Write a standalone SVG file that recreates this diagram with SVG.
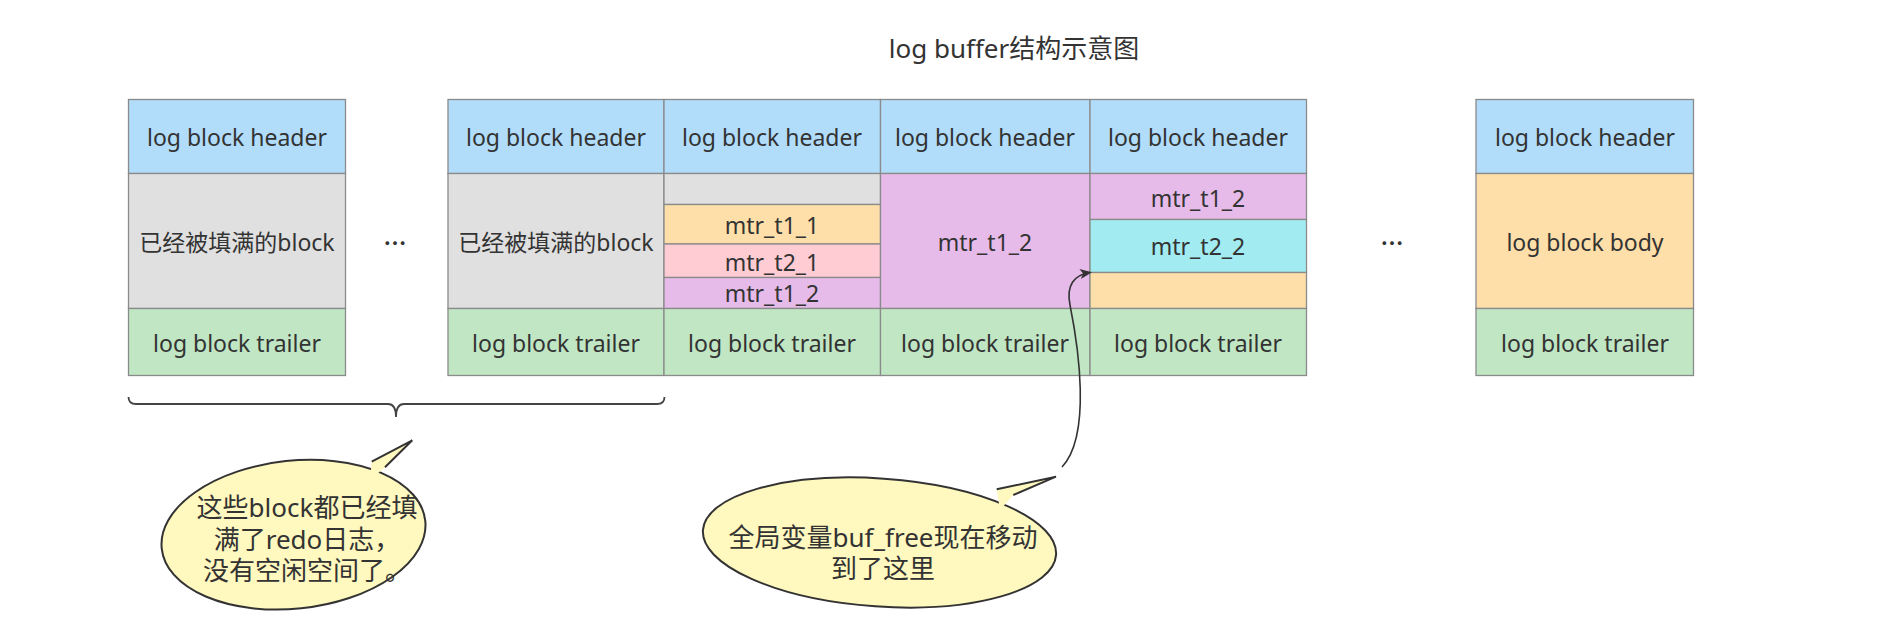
<svg xmlns="http://www.w3.org/2000/svg" width="1902" height="628" viewBox="0 0 1902 628">
<defs>
<style>
.t{font-family:"Noto Sans","Noto Sans CJK SC",sans-serif;font-size:23px;fill:#333;text-anchor:middle;dominant-baseline:central}
.b{font-family:"Noto Sans","Noto Sans CJK SC",sans-serif;font-size:26px;fill:#333;text-anchor:middle;dominant-baseline:central}
.c{stroke:#8a8a8a;stroke-width:1.3}
.hd{fill:#b1ddfb}
.gy{fill:#e0e0e0}
.gr{fill:#c0e6c4}
.or{fill:#fedfa9}
.pk{fill:#ffccd4}
.pu{fill:#e6bbe9}
.cy{fill:#a1ebf1}
.bub{fill:#fff8bf;stroke:#333;stroke-width:2}
</style>
<marker id="ah" markerWidth="12" markerHeight="10" refX="10" refY="5" orient="auto" markerUnits="userSpaceOnUse">
<path d="M0,0 L12,5 L0,10 L3,5 Z" fill="#333"/>
</marker>
</defs>
<rect width="1902" height="628" fill="#fff"/>
<text id="title" x="1014" y="48" class="t" style="font-size:26px">log buffer结构示意图</text>

<g id="block1">
<rect class="c hd" x="128.5" y="99.5" width="217" height="74"/>
<rect class="c gy" x="128.5" y="173.5" width="217" height="135"/>
<rect class="c gr" x="128.5" y="308.5" width="217" height="67"/>
<text class="t" x="237" y="137">log block header</text>
<text class="t" x="237" y="242">已经被填满的block</text>
<text class="t" x="237" y="342.5">log block trailer</text>
</g>

<g id="dots1"><text class="t" x="395" y="242" style="font-family:'Noto Sans CJK SC',sans-serif;font-weight:bold">…</text></g>

<g id="block2">
<rect class="c hd" x="448" y="99.5" width="216" height="74"/>
<rect class="c gy" x="448" y="173.5" width="216" height="135"/>
<rect class="c gr" x="448" y="308.5" width="216" height="67"/>
<text class="t" x="556" y="137">log block header</text>
<text class="t" x="556" y="242">已经被填满的block</text>
<text class="t" x="556" y="342.5">log block trailer</text>
</g>

<g id="block3">
<rect class="c hd" x="664" y="99.5" width="216.5" height="74"/>
<rect class="c gy" x="664" y="173.5" width="216.5" height="31"/>
<rect class="c or" x="664" y="204.5" width="216.5" height="39.5"/>
<rect class="c pk" x="664" y="244" width="216.5" height="33.5"/>
<rect class="c pu" x="664" y="277.5" width="216.5" height="31"/>
<rect class="c gr" x="664" y="308.5" width="216.5" height="67"/>
<text class="t" x="772" y="137">log block header</text>
<text class="t" x="772" y="225">mtr_t1_1</text>
<text class="t" x="772" y="261.5">mtr_t2_1</text>
<text class="t" x="772" y="293">mtr_t1_2</text>
<text class="t" x="772" y="342.5">log block trailer</text>
</g>

<g id="block4">
<rect class="c hd" x="880.5" y="99.5" width="209.5" height="74"/>
<rect class="c pu" x="880.5" y="173.5" width="209.5" height="135"/>
<rect class="c gr" x="880.5" y="308.5" width="209.5" height="67"/>
<text class="t" x="985" y="137">log block header</text>
<text class="t" x="985" y="242">mtr_t1_2</text>
<text class="t" x="985" y="342.5">log block trailer</text>
</g>

<g id="block5">
<rect class="c hd" x="1090" y="99.5" width="216.5" height="74"/>
<rect class="c pu" x="1090" y="173.5" width="216.5" height="46"/>
<rect class="c cy" x="1090" y="219.5" width="216.5" height="53"/>
<rect class="c or" x="1090" y="272.5" width="216.5" height="36"/>
<rect class="c gr" x="1090" y="308.5" width="216.5" height="67"/>
<text class="t" x="1198" y="137">log block header</text>
<text class="t" x="1198" y="197.5">mtr_t1_2</text>
<text class="t" x="1198" y="246">mtr_t2_2</text>
<text class="t" x="1198" y="342.5">log block trailer</text>
</g>

<g id="dots2"><text class="t" x="1392" y="242" style="font-family:'Noto Sans CJK SC',sans-serif;font-weight:bold">…</text></g>

<g id="block6">
<rect class="c hd" x="1476" y="99.5" width="217.5" height="74"/>
<rect class="c or" x="1476" y="173.5" width="217.5" height="135"/>
<rect class="c gr" x="1476" y="308.5" width="217.5" height="67"/>
<text class="t" x="1585" y="137">log block header</text>
<text class="t" x="1585" y="242">log block body</text>
<text class="t" x="1585" y="342.5">log block trailer</text>
</g>

<g id="connectors">
<path id="brace" d="M128.5,397 Q128.5,404 136,404 L388,404 Q396,404 396,417 Q396,404 404,404 L657,404 Q664.5,404 664.5,397" fill="none" stroke="#444" stroke-width="1.8"/>
<path id="arrow" d="M1062,467 C1092,435 1078,345 1070,305 C1066,285 1074,275 1090,272.5" fill="none" stroke="#333" stroke-width="1.6" marker-end="url(#ah)"/>
</g>

<g id="callout1">
<ellipse class="bub" cx="293.5" cy="534.7" rx="132.5" ry="74" transform="rotate(-6 293.5 534.7)"/>
<polygon points="371.7,461.7 412.3,440.3 385,467.3 370,480" fill="#fff8bf"/>
<polyline points="371.7,461.7 412.3,440.3 385,467.3" fill="none" stroke="#333" stroke-width="2" stroke-linejoin="miter"/>
<text class="b" x="307" y="506.5">这些block都已经填</text>
<text class="b" x="307" y="539">满了redo日志，</text>
<text class="b" x="307" y="569.5">没有空闲空间了。</text>
</g>

<g id="callout2">
<ellipse class="bub" cx="879.5" cy="542.5" rx="177" ry="64" transform="rotate(4 879.5 542.5)"/>
<polygon points="996.7,489.3 1056,476.7 1013.3,495 1000,510" fill="#fff8bf"/>
<polyline points="996.7,489.3 1056,476.7 1013.3,495" fill="none" stroke="#333" stroke-width="2"/>
<text class="b" x="883" y="536.5">全局变量buf_free现在移动</text>
<text class="b" x="883" y="567.5">到了这里</text>
</g>
</svg>
